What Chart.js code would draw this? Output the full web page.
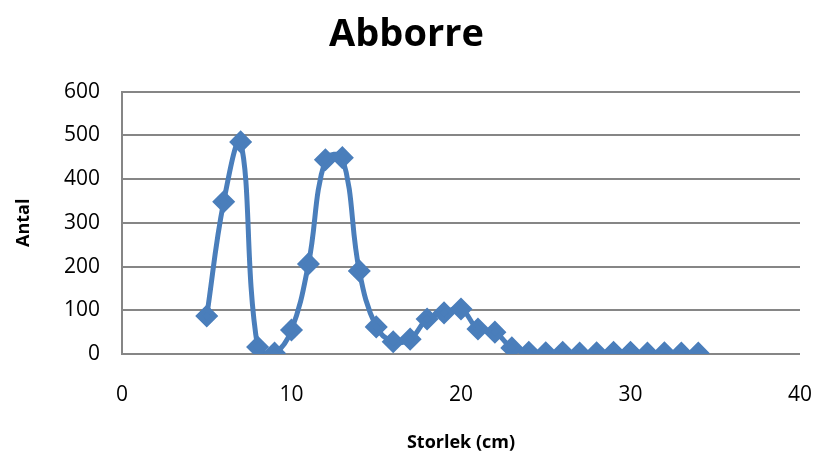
<!DOCTYPE html>
<html lang="sv">
<head>
    <meta charset="UTF-8">
    <title>Abborre</title>
    <style>
        body { margin: 0; background: #fff; }
        #wrap { position: relative; width: 817px; height: 463px; }
    </style>
</head>
<body>
<div id="wrap"><canvas id="abborreChart"></canvas></div>

<script src="https://cdn.jsdelivr.net/npm/chart.js@4/dist/chart.umd.min.js"></script>
<script>
    // storlek i cm och antal fiskar
    const storlek = [5, 6, 7, 8, 9, 10, 11, 12, 13, 14, 15, 16, 17, 18, 19, 20, 21, 22, 23,
                     24, 25, 26, 27, 28, 29, 30, 31, 32, 33, 34];
    const antal = [87, 348, 485, 16, 2, 55, 206, 444, 449, 190, 62, 28, 34, 80, 94, 103, 57, 50, 14,
                   4, 3, 4, 2, 3, 4, 4, 2, 3, 2, 2];
    const xTicks = [0, 10, 20, 30, 40];
    const yTicks = [0, 100, 200, 300, 400, 500, 600];

    const lineColor = "#4a7ebb";
    const gridColor = "#868686";
    const fontName = "'Open Sans', Lato, sans-serif";

    let points = [];
    for (let i = 0; i < storlek.length; i++) {
        points.push({x: storlek[i], y: antal[i]});
    }

    const ctx = document.getElementById('abborreChart').getContext('2d');
    const myChart = new Chart(ctx, {
        type: 'scatter',
        data: {
            datasets: [{
                label: 'Abborre',
                data: points,
                showLine: true,
                tension: 0.4,
                borderColor: lineColor,
                backgroundColor: lineColor,
                borderWidth: 5,
                pointStyle: 'rectRot',
                pointRadius: 8,
                pointHoverRadius: 8
            }]
        },
        options: {
            responsive: true,
            maintainAspectRatio: false,
            animation: false,
            layout: { padding: { left: 13, right: 17, top: 12, bottom: 8 } },
            plugins: {
                legend: { display: false },
                tooltip: { enabled: false },
                title: {
                    display: true,
                    text: 'Abborre',
                    color: '#000',
                    font: { family: fontName, size: 38, weight: 'bold' },
                    padding: { top: 0, bottom: 34 }
                }
            },
            scales: {
                x: {
                    type: 'linear',
                    min: 0,
                    max: 40,
                    afterBuildTicks: function (axis) { axis.ticks = xTicks.map(v => ({value: v})); },
                    afterFit: function (axis) {
                        axis.height = 101;
                        axis.paddingLeft = 0;
                        axis.paddingRight = 0;
                    },
                    grid: { display: false, drawTicks: false },
                    border: { display: false },
                    ticks: { color: '#000', font: { family: fontName, size: 21 }, padding: 28 },
                    title: {
                        display: true,
                        text: 'Storlek (cm)',
                        color: '#000',
                        font: { family: fontName, size: 18, weight: 'bold' },
                        padding: { top: 0, bottom: 1 }
                    }
                },
                y: {
                    min: 0,
                    max: 600,
                    afterBuildTicks: function (axis) { axis.ticks = yTicks.map(v => ({value: v})); },
                    afterFit: function (axis) { axis.width = 109; },
                    grid: { color: gridColor, lineWidth: 2, drawTicks: false },
                    border: { display: true, color: gridColor, width: 2 },
                    ticks: { color: '#000', font: { family: fontName, size: 21 }, padding: 22 },
                    title: {
                        display: true,
                        text: 'Antal',
                        color: '#000',
                        font: { family: fontName, size: 18, weight: 'bold' },
                        padding: { top: 0, bottom: 4 }
                    }
                }
            }
        }
    });
</script>
</body>
</html>
